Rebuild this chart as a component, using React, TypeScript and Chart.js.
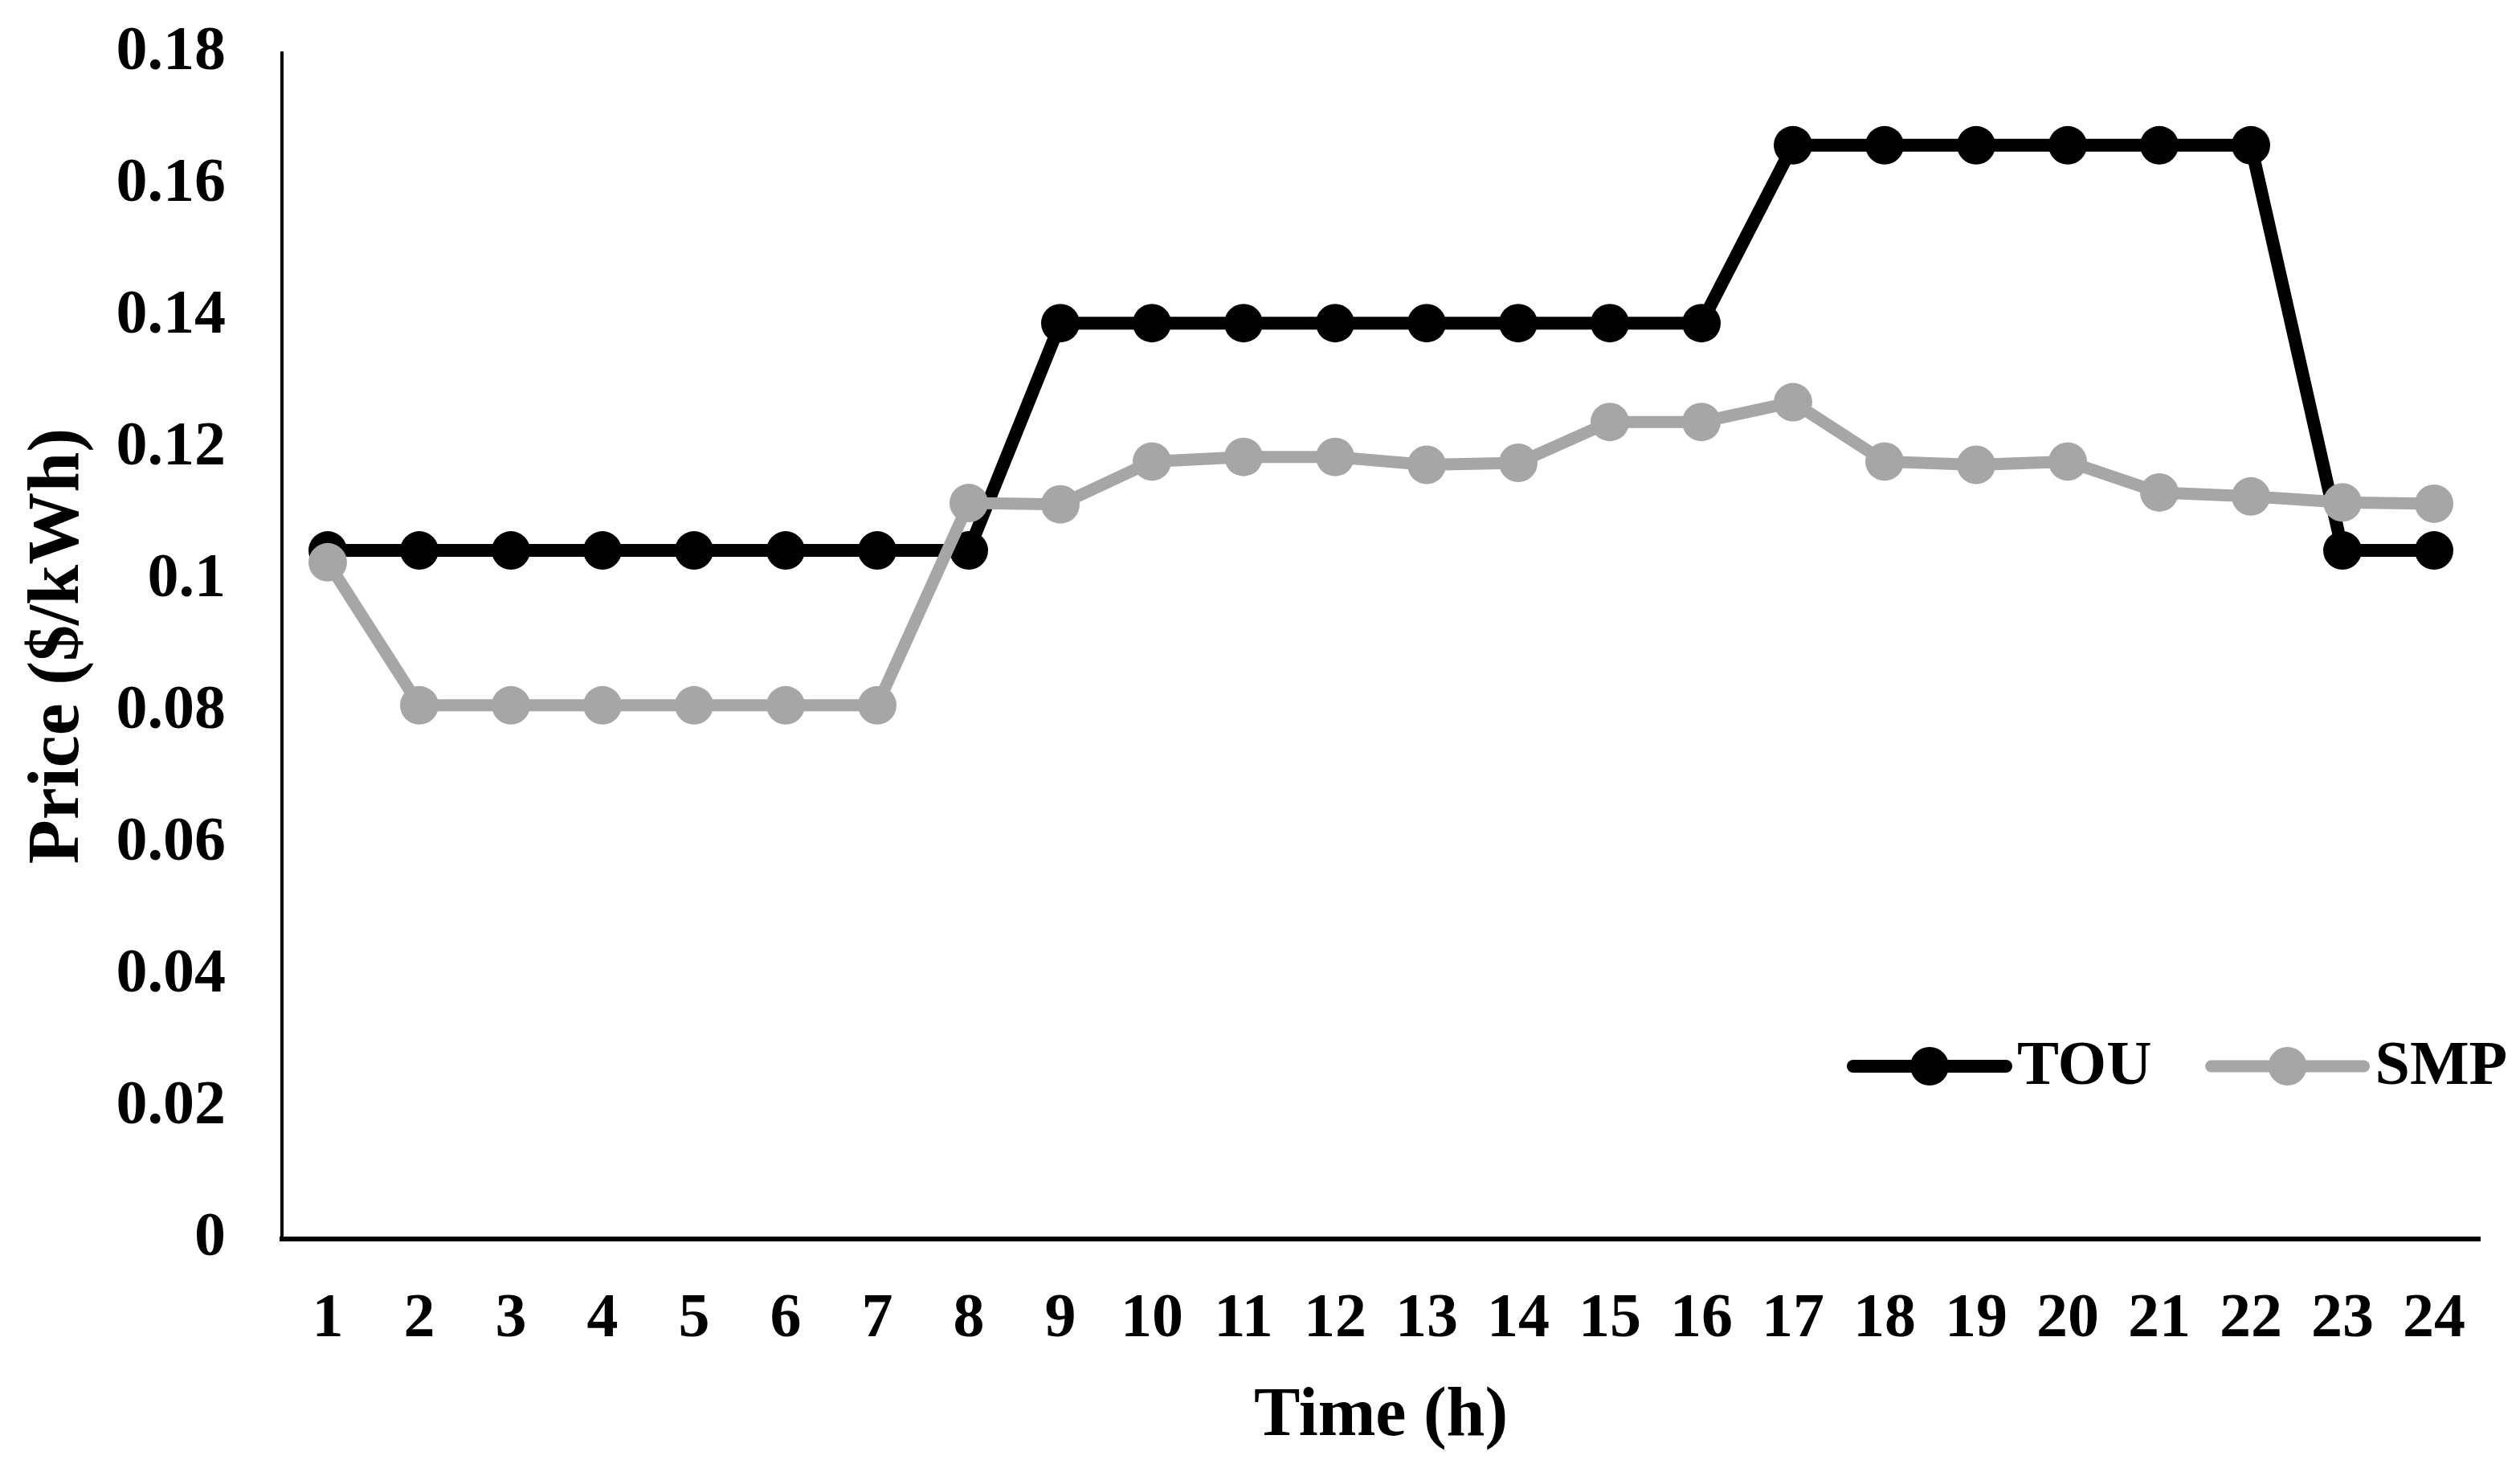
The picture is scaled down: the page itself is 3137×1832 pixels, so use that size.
import React, { useEffect, useRef } from 'react';
import { Chart, registerables } from 'chart.js';

Chart.register(...registerables);

const hours = ['1', '2', '3', '4', '5', '6', '7', '8', '9', '10', '11', '12', '13', '14', '15', '16', '17', '18', '19', '20', '21', '22', '23', '24'];
const touPrice = [0.1045, 0.1045, 0.1045, 0.1045, 0.1045, 0.1045, 0.1045, 0.1045, 0.139, 0.139, 0.139, 0.139, 0.139, 0.139, 0.139, 0.139, 0.166, 0.166, 0.166, 0.166, 0.166, 0.166, 0.1045, 0.1045];
const smpPrice = [0.1027, 0.081, 0.081, 0.081, 0.081, 0.081, 0.081, 0.1117, 0.1115, 0.118, 0.1187, 0.1187, 0.1175, 0.1178, 0.124, 0.124, 0.127, 0.118, 0.1175, 0.118, 0.1133, 0.1127, 0.1118, 0.1116];
const yTickLabels = ['0', '0.02', '0.04', '0.06', '0.08', '0.1', '0.12', '0.14', '0.16', '0.18'];
const seriesNames = ['TOU', 'SMP'];
const seriesColors = ['#000000', '#A6A6A6'];
const xTitle = 'Time (h)';
const yTitle = 'Price ($/kWh)';

const FONT = "'Times New Roman', 'Liberation Serif', serif";
const W = 3137;
const H = 1832;

const lineLegend = {
  id: 'lineLegend',
  afterDraw(chart: any) {
    const { ctx, chartArea } = chart;
    const y = chartArea.bottom - 215;
    let x = chartArea.right - 780;
    ctx.save();
    ctx.font = `bold 78px ${FONT}`;
    ctx.textBaseline = 'middle';
    ctx.textAlign = 'left';
    chart.data.datasets.forEach((ds: any) => {
      const color = ds.borderColor;
      ctx.strokeStyle = color;
      ctx.lineWidth = ds.borderWidth;
      ctx.lineCap = 'round';
      ctx.beginPath();
      ctx.moveTo(x, y);
      ctx.lineTo(x + 190, y);
      ctx.stroke();
      ctx.fillStyle = color;
      ctx.beginPath();
      ctx.arc(x + 95, y, ds.pointRadius, 0, Math.PI * 2);
      ctx.fill();
      ctx.fillStyle = '#000';
      ctx.fillText(ds.label, x + 204, y + 2);
      const tw = ctx.measureText(ds.label).width;
      x += 204 + tw + 74;
    });
    ctx.restore();
  },
};

export default function App() {
  const ref = useRef<HTMLCanvasElement | null>(null);

  useEffect(() => {
    if (!ref.current) return;
    const chart = new Chart(ref.current, {
      type: 'line',
      data: {
        labels: hours,
        datasets: [
          {
            label: seriesNames[0],
            data: touPrice,
            borderColor: seriesColors[0],
            backgroundColor: seriesColors[0],
            pointBackgroundColor: seriesColors[0],
            pointBorderColor: seriesColors[0],
            borderWidth: 16,
            pointRadius: 24,
            pointBorderWidth: 0,
            tension: 0,
            order: 1,
          },
          {
            label: seriesNames[1],
            data: smpPrice,
            borderColor: seriesColors[1],
            backgroundColor: seriesColors[1],
            pointBackgroundColor: seriesColors[1],
            pointBorderColor: seriesColors[1],
            borderWidth: 15,
            pointRadius: 24,
            pointBorderWidth: 0,
            tension: 0,
            order: 0,
          },
        ],
      },
      options: {
        responsive: false,
        animation: false,
        devicePixelRatio: 1,
        layout: { padding: { top: 66, right: 50, bottom: 0, left: 0 } },
        plugins: {
          legend: { display: false },
          tooltip: { enabled: false },
        },
        scales: {
          x: {
            type: 'category',
            offset: true,
            grid: { display: false, drawTicks: false },
            border: { display: true, color: '#000', width: 6 },
            ticks: {
              color: '#000',
              padding: 54,
              maxRotation: 0,
              autoSkip: false,
              font: { family: FONT, size: 78, weight: 'bold', lineHeight: 1.2 },
            },
            title: {
              display: true,
              text: xTitle,
              color: '#000',
              padding: { top: 0, bottom: 17 },
              font: { family: FONT, size: 86, weight: 'bold', lineHeight: 1.2 },
            },
            afterFit: (scale: any) => {
              scale.height = 290;
              scale.paddingLeft = 0;
              scale.paddingRight = 0;
            },
          },
          y: {
            min: 0,
            max: 0.18,
            grid: { display: false, drawTicks: false },
            border: { display: true, color: '#000', width: 4 },
            ticks: {
              stepSize: 0.02,
              color: '#000',
              padding: 70,
              font: { family: FONT, size: 78, weight: 'bold', lineHeight: 1.2 },
              callback: (_v: any, i: number) => yTickLabels[i],
            },
            title: {
              display: true,
              text: yTitle,
              color: '#000',
              padding: { top: 20, bottom: 0 },
              font: { family: FONT, size: 90, weight: 'bold', lineHeight: 1.2 },
            },
            afterFit: (scale: any) => {
              scale.width = 351;
              scale.paddingTop = 0;
              scale.paddingBottom = 0;
            },
          },
        },
      },
      plugins: [lineLegend],
    } as any);
    return () => chart.destroy();
  }, []);

  return (
    <div style={{ position: 'absolute', left: 0, top: 0, width: W, height: H, background: '#fff' }}>
      <canvas ref={ref} width={W} height={H} style={{ display: 'block', width: W, height: H }} />
    </div>
  );
}
